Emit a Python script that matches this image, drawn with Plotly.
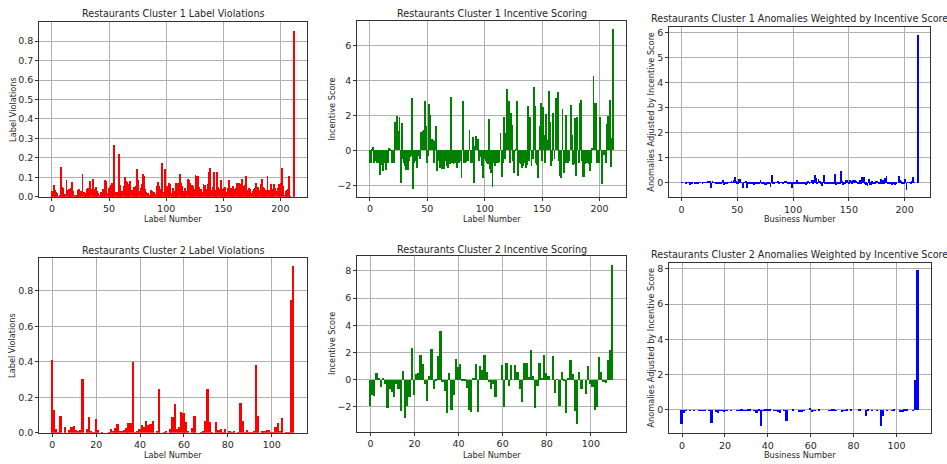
import plotly.graph_objects as go
from plotly.subplots import make_subplots

# cluster 1: 213 labels
viol1 = [
    0.03, 0.015, 0.06, 0.035, 0.025, 0.02, 0.005, 0.01, 0.155, 0.05,
    0.045, 0.005, 0.015, 0.09, 0.035, 0.04, 0.02, 0.045, 0.075, 0.03,
    0.01, 0.01, 0.005, 0.035, 0.04, 0.02, 0.03, 0.12, 0.025, 0.02,
    0.005, 0.04, 0.045, 0.03, 0.08, 0.04, 0.095, 0.035, 0.04, 0.05,
    0.03, 0.02, 0.01, 0.025, 0.02, 0.04, 0.01, 0.085, 0.08, 0.02,
    0.045, 0.05, 0.06, 0.07, 0.02, 0.265, 0.025, 0.02, 0.025, 0.22,
    0.06, 0.01, 0.03, 0.055, 0.105, 0.08, 0.075, 0.065, 0.04, 0.08,
    0.035, 0.035, 0.05, 0.035, 0.055, 0.145, 0.09, 0.03, 0.045, 0.065,
    0.12, 0.11, 0.04, 0.025, 0.02, 0.01, 0.005, 0.035, 0.03, 0.015,
    0.025, 0.015, 0.055, 0.075, 0.055, 0.02, 0.04, 0.175, 0.025, 0.145,
    0.04, 0.055, 0.045, 0.07, 0.065, 0.02, 0.045, 0.025, 0.03, 0.07,
    0.025, 0.07, 0.12, 0.07, 0.055, 0.03, 0.02, 0.045, 0.03, 0.095,
    0.085, 0.07, 0.045, 0.06, 0.055, 0.04, 0.115, 0.11, 0.11, 0.05,
    0.03, 0.04, 0.025, 0.065, 0.06, 0.04, 0.035, 0.065, 0.13, 0.15,
    0.035, 0.05, 0.13, 0.035, 0.03, 0.13, 0.05, 0.04, 0.085, 0.04,
    0.025, 0.045, 0.05, 0.025, 0.045, 0.09, 0.03, 0.045, 0.02, 0.055,
    0.04, 0.045, 0.07, 0.065, 0.07, 0.065, 0.05, 0.095, 0.055, 0.06,
    0.11, 0.03, 0.035, 0.045, 0.04, 0.02, 0.03, 0.04, 0.045, 0.07,
    0.035, 0.05, 0.035, 0.065, 0.095, 0.05, 0.045, 0.03, 0.035, 0.11,
    0.035, 0.025, 0.065, 0.04, 0.025, 0.065, 0.045, 0.03, 0.045, 0.065,
    0.04, 0.07, 0.15, 0.055, 0.01, 0.03, 0.035, 0.04, 0.11, 0.005,
    0.0, 0.0, 0.855,
]

inc1 = [
    -0.7, -0.7, 0.1, 0.2, -0.7, -0.6, -0.7, -0.7, -0.7, -1.4,
    -0.85, -0.85, -1.2, -0.7, -1.15, -0.75, -0.7, 0.15, 0.1, -0.7,
    -0.7, -0.7, 1.65, 0.4, 1.95, 1.1, 1.9, -1.85, 1.55, -0.5,
    -0.7, -0.9, -1.15, -1.15, -0.6, -0.4, -0.3, 3.0, -2.2, -0.7,
    -0.6, -1.0, -0.3, -0.3, -0.5, 1.05, 1.1, 1.15, 2.85, 1.4,
    -0.7, -0.3, 2.65, 2.0, 0.65, 0.6, -0.75, 0.55, 1.4, -1.2,
    -0.6, -1.0, -0.8, -1.1, -0.7, -1.1, -0.6, -0.9, -1.0, -0.75,
    -0.8, 3.05, -0.7, -0.8, -0.75, -0.65, -1.0, -0.7, -0.7, -0.6,
    -1.6, 2.85, -0.7, -0.7, -0.65, -0.6, -0.6, 1.15, -0.7, -0.75,
    0.75, -1.85, 0.25, 0.8, 0.65, -0.6, -0.4, -0.35, -0.9, -1.6,
    -0.5, -0.6, -0.7, -0.8, 1.8, -1.1, -1.3, -2.1, -0.7, -0.9,
    -0.6, -0.7, -0.7, -0.65, 1.0, -1.55, -0.7, 1.9, -0.5, 1.0,
    3.5, 2.8, -0.75, 2.15, 1.45, -0.6, -1.3, 0.1, 2.85, -1.45,
    -0.75, -0.6, -0.8, -1.0, -0.9, -0.7, -1.0, -0.85, 2.55, -0.6,
    1.9, -0.9, -0.5, 3.6, 2.55, -0.7, -0.85, -1.6, 1.4, 2.7,
    -0.6, 2.5, 0.85, -0.7, 2.1, 0.6, 3.4, 1.65, -0.9, -0.6,
    2.15, -0.5, 3.0, 1.15, 3.35, -0.6, -1.5, -1.6, 2.35, -1.3,
    -0.7, 2.05, -0.7, -0.7, -0.6, 2.6, 0.9, -0.85, -0.8, 1.85,
    -1.45, 1.9, -0.7, 2.7, 2.9, -0.6, -1.55, -1.55, -0.8, -0.7,
    -0.7, -0.8, -1.2, -0.7, 0.15, 4.25, 2.7, 2.7, -0.7, -0.7,
    -0.7, 1.9, -1.95, -0.25, -0.25, -0.25, -0.75, 1.5, 1.95, 2.9,
    -0.95, 0.7, 6.95,
]

anom1 = [
    0.0, -0.01, 0.0, 0.0, -0.02, -0.01, 0.0, -0.01, -0.11, -0.04,
    -0.04, 0.0, -0.02, -0.06, -0.04, -0.03, -0.01, 0.01, 0.0, -0.02,
    -0.01, -0.01, 0.01, 0.02, 0.08, 0.02, 0.06, -0.22, 0.04, -0.01,
    0.0, -0.04, -0.05, -0.03, -0.05, -0.02, -0.03, 0.11, -0.09, -0.04,
    -0.02, -0.02, 0.0, -0.01, -0.01, 0.04, 0.01, 0.1, 0.23, 0.03,
    -0.03, -0.02, 0.16, 0.14, 0.01, -0.2, 0.02, 0.01, 0.04, -0.22,
    -0.04, -0.01, -0.02, -0.06, -0.07, -0.09, -0.05, -0.06, -0.04, -0.06,
    -0.03, 0.11, -0.04, -0.03, -0.04, -0.09, -0.09, -0.02, -0.03, -0.04,
    -0.19, 0.31, -0.03, -0.02, -0.01, -0.01, 0.0, 0.04, -0.02, -0.01,
    0.02, -0.03, 0.01, 0.06, 0.04, -0.01, -0.02, -0.06, -0.02, -0.23,
    -0.02, -0.03, -0.03, -0.06, 0.12, -0.02, -0.06, -0.05, -0.02, -0.06,
    -0.02, -0.05, -0.08, -0.05, 0.06, -0.05, -0.01, 0.09, -0.02, 0.1,
    0.3, 0.2, -0.03, 0.13, 0.08, -0.02, -0.15, 0.01, 0.31, -0.07,
    -0.02, -0.02, -0.02, -0.07, -0.05, -0.03, -0.04, -0.06, 0.33, -0.09,
    -0.03, -0.05, -0.07, 0.47, 0.08, -0.09, -0.04, -0.06, 0.12, 0.11,
    -0.02, 0.11, 0.04, -0.02, 0.09, 0.05, 0.1, 0.07, -0.02, -0.03,
    0.09, -0.02, 0.21, 0.07, 0.24, -0.04, -0.08, -0.15, 0.13, -0.08,
    -0.08, 0.06, -0.02, -0.03, -0.02, 0.05, 0.03, -0.03, -0.04, 0.13,
    -0.05, 0.1, -0.02, 0.18, 0.28, -0.03, -0.07, -0.05, -0.03, -0.08,
    -0.02, -0.02, -0.08, -0.03, 0.0, 0.28, 0.12, 0.08, -0.03, -0.05,
    -0.03, 0.13, -0.29, -0.01, 0.0, -0.01, -0.03, 0.06, 0.21, -0.01,
    0.0, 0.0, 5.93,
]

# cluster 2: 111 labels
viol2 = [
    0.41, 0.13, 0.02, 0.005, 0.095, 0.0, 0.035, 0.0, 0.015, 0.035,
    0.04, 0.015, 0.01, 0.015, 0.305, 0.0, 0.025, 0.09, 0.01, 0.005,
    0.08, 0.015, 0.0, 0.005, 0.0, 0.0, 0.005, 0.02, 0.01, 0.03,
    0.05, 0.01, 0.01, 0.015, 0.03, 0.055, 0.055, 0.40, 0.005, 0.01,
    0.02, 0.045, 0.035, 0.07, 0.045, 0.05, 0.065, 0.0, 0.01, 0.25,
    0.0, 0.005, 0.01, 0.0, 0.02, 0.09, 0.165, 0.02, 0.035, 0.12,
    0.115, 0.06, 0.01, 0.0, 0.03, 0.095, 0.0, 0.0, 0.005, 0.01,
    0.07, 0.25, 0.06, 0.005, 0.0, 0.06, 0.015, 0.02, 0.005, 0.025,
    0.0, 0.01, 0.005, 0.01, 0.0, 0.005, 0.17, 0.07, 0.005, 0.015,
    0.005, 0.005, 0.01, 0.385, 0.095, 0.0, 0.01, 0.01, 0.015, 0.015,
    0.005, 0.005, 0.035, 0.055, 0.01, 0.085, 0.0, 0.005, 0.005, 0.75,
    0.94,
]

inc2 = [
    -1.9, -1.1, -1.2, 0.5, 0.15, -0.55, 0.15, -0.3, -2.1, -0.7,
    -0.9, -1.3, -0.3, -0.7, -2.3, 0.65, -2.8, -1.9, -1.3, 2.3,
    -1.1, 0.4, 0.5, 1.85, 1.15, -0.3, -1.55, 0.25, 2.25, -0.65,
    -0.1, 1.75, 3.55, -0.2, -0.85, -2.45, 0.5, -2.2, -1.15, 1.55,
    0.9, 1.15, -0.05, -0.1, -0.6, -2.25, -2.4, 0.15, 1.15, -2.4,
    1.0, 0.75, 1.85, 0.6, -0.15, -0.65, -0.3, -1.25, 0.0, 0.0,
    1.1, -2.0, 1.2, -0.45, 1.1, 0.0, 1.1, 0.6, -0.7, -1.65,
    1.2, 1.2, 0.2, 2.2, 0.25, -2.05, -0.45, 1.25, 0.1, 1.85,
    0.5, 0.25, 0.0, 1.75, -1.0, 0.05, -1.9, 0.6, -0.1, -2.45,
    0.1, 1.45, 0.4, -2.3, -3.25, 0.6, -0.65, 0.0, -1.05, 1.0,
    -0.3, -0.5, -2.2, -2.0, 1.7, 0.6, -0.15, -0.25, 1.45, 2.2,
    8.45,
]

anom2 = [
    -0.78, -0.14, -0.02, 0.0, 0.01, 0.0, 0.01, 0.0, -0.03, -0.02,
    -0.04, -0.02, 0.0, -0.01, -0.70, 0.0, -0.07, -0.17, -0.01, 0.01,
    -0.09, 0.01, 0.0, 0.01, 0.0, 0.0, -0.01, 0.01, 0.02, -0.02,
    -0.01, 0.02, 0.04, 0.0, -0.03, -0.13, 0.03, -0.88, -0.01, 0.02,
    0.02, 0.05, 0.0, -0.01, -0.03, -0.11, -0.16, 0.0, 0.01, -0.60,
    0.0, 0.0, 0.02, 0.0, 0.0, -0.06, -0.05, -0.03, 0.0, 0.0,
    0.13, -0.12, 0.01, 0.0, 0.03, 0.0, 0.0, 0.0, 0.0, -0.02,
    0.1, 0.05, 0.01, 0.0, 0.0, -0.12, -0.01, 0.03, 0.0, 0.05,
    0.0, 0.0, 0.0, 0.02, 0.0, 0.0, -0.32, 0.04, 0.0, -0.04,
    0.0, 0.01, 0.0, -0.89, -0.31, 0.0, -0.01, 0.0, -0.02, 0.02,
    0.0, 0.0, -0.08, -0.11, 0.02, 0.05, 0.0, 0.0, 0.01, 1.69,
    7.94,
]

W, H = 947, 464
FONT = "DejaVu Sans"
TXT = "#262626"


def fx(p):
    return p / W


def fy(p):
    return 1 - p / H


fig = make_subplots(rows=2, cols=3)

panels = [
    # row, col, values, color, x domain px, y domain px, x range, y range, y ticks, y fmt, x ticks
    (1, 1, viol1, "#ff0000", (39.3, 306.7), (21.7, 196.7), (-11.04, 223.04), (0, 0.9),
     [0, 0.1, 0.2, 0.3, 0.4, 0.5, 0.6, 0.7, 0.8], ".1f", [0, 50, 100, 150, 200]),
    (1, 2, inc1, "#008000", (357.3, 626.0), (21.0, 196.7), (-11.04, 223.04), (-2.66, 7.41),
     [-2, 0, 2, 4, 6], "", [0, 50, 100, 150, 200]),
    (1, 3, anom1, "#0000ff", (669.3, 930.3), (26.7, 197.3), (-11.04, 223.04), (-0.6, 6.24),
     [0, 1, 2, 3, 4, 5, 6], "", [0, 50, 100, 150, 200]),
    (2, 1, viol2, "#ff0000", (39.3, 306.7), (257.7, 432.7), (-5.94, 115.94), (0, 0.987),
     [0, 0.2, 0.4, 0.6, 0.8], ".1f", [0, 20, 40, 60, 80, 100]),
    (2, 2, inc2, "#008000", (357.3, 626.0), (256.0, 432.0), (-5.94, 115.94), (-3.84, 9.09),
     [-2, 0, 2, 4, 6, 8], "", [0, 20, 40, 60, 80, 100]),
    (2, 3, anom2, "#0000ff", (669.3, 930.7), (262.7, 433.3), (-5.94, 115.94), (-1.32, 8.34),
     [0, 2, 4, 6, 8], "", [0, 20, 40, 60, 80, 100]),
]

axis_common = dict(
    showline=True, linecolor="#333333", linewidth=1, mirror=True,
    showgrid=True, gridcolor="#b0b0b0", gridwidth=0.8,
    zeroline=False, ticks="outside", ticklen=3, tickcolor="#333333",
    tickfont=dict(family=FONT, size=9.5, color=TXT),
    layer="above traces", automargin=False,
)

for r, c, vals, color, xd, yd, xr, yr, yt, yf, xt in panels:
    fig.add_trace(go.Bar(
        x=list(range(len(vals))), y=vals, width=0.8,
        marker=dict(color=color, line=dict(width=0)),
        showlegend=False,
    ), row=r, col=c)
    fig.update_xaxes(domain=[fx(xd[0]), fx(xd[1])], range=list(xr), tickvals=xt,
                     row=r, col=c, **axis_common)
    fig.update_yaxes(domain=[fy(yd[1]), fy(yd[0])], range=list(yr), tickvals=yt,
                     tickformat=yf, row=r, col=c, **axis_common)

# titles and axis labels
titles = [
    ("Restaurants Cluster 1 Label Violations", 173.0, 14.0),
    ("Restaurants Cluster 1 Incentive Scoring", 491.6, 14.0),
    ("Restaurants Cluster 1 Anomalies Weighted by Incentive Score", 799.8, 19.0),
    ("Restaurants Cluster 2 Label Violations", 173.0, 250.0),
    ("Restaurants Cluster 2 Incentive Scoring", 491.6, 249.0),
    ("Restaurants Cluster 2 Anomalies Weighted by Incentive Score", 799.8, 255.0),
]
xlabels = [
    ("Label Number", 173.0, 219.0), ("Label Number", 491.6, 219.0),
    ("Business Number", 799.8, 219.3),
    ("Label Number", 173.0, 455.0), ("Label Number", 491.6, 455.0),
    ("Business Number", 800.0, 455.3),
]
ylabels = [
    ("Label Violations", 12.7, 109.2), ("Incentive Score", 331.7, 108.9),
    ("Anomalies Adjusted by Incentive Score", 650.7, 112.0),
    ("Label Violations", 12.7, 345.2), ("Incentive Score", 332.0, 344.0),
    ("Anomalies Adjusted by Incentive Score", 650.5, 348.0),
]

annotations = []
for text, x, y in titles:
    annotations.append(dict(text=text, x=fx(x), y=fy(y), xref="paper", yref="paper",
                            xanchor="center", yanchor="middle", showarrow=False,
                            font=dict(family=FONT, size=9.6, color=TXT)))
for text, x, y in xlabels:
    annotations.append(dict(text=text, x=fx(x), y=fy(y), xref="paper", yref="paper",
                            xanchor="center", yanchor="middle", showarrow=False,
                            font=dict(family=FONT, size=8.2, color=TXT)))
for text, x, y in ylabels:
    annotations.append(dict(text=text, x=fx(x), y=fy(y), xref="paper", yref="paper",
                            xanchor="center", yanchor="middle", showarrow=False,
                            textangle=-90,
                            font=dict(family=FONT, size=8.2, color=TXT)))

fig.update_layout(
    width=W, height=H,
    margin=dict(l=0, r=0, t=0, b=0),
    paper_bgcolor="white", plot_bgcolor="white",
    bargap=0, annotations=annotations,
    font=dict(family=FONT, color=TXT),
)

# page body has a default 8px margin; drop it so the figure fills the window
fig.write_html("out.html", config={"displayModeBar": False},
               post_script="document.body.style.margin='0';")
